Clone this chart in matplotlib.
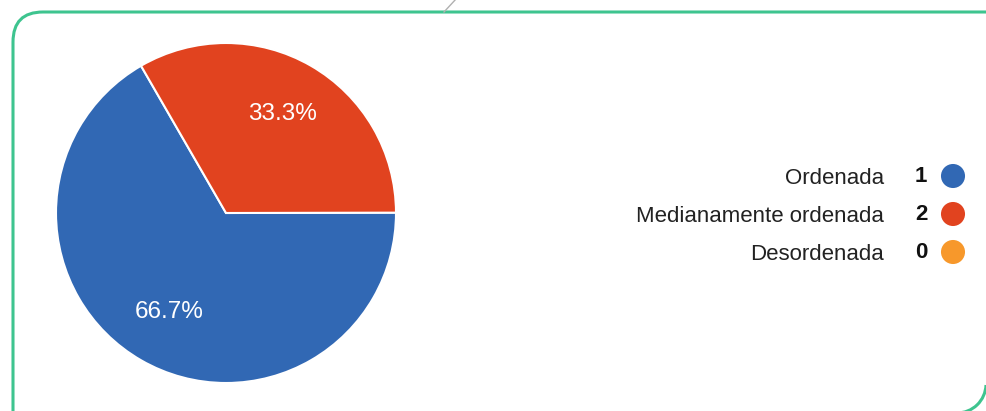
import matplotlib.pyplot as plt
from matplotlib.patches import FancyBboxPatch, Arc

plt.rcParams['font.family'] = ['Liberation Sans', 'DejaVu Sans']

# survey answers
categories = ["Ordenada", "Medianamente ordenada", "Desordenada"]
counts = [1, 2, 0]
shares = [66.7, 33.3]          # percentages shown on the pie
colors = ["#3168b4", "#e1431f", "#f7982b"]

W, H = 986, 411
fig = plt.figure(figsize=(W / 100, H / 100), dpi=100)

# background layer in pixel units (origin bottom left) for the card frame and legend
bg = fig.add_axes([0, 0, 1, 1])
bg.set_xlim(0, W)
bg.set_ylim(0, H)
bg.axis("off")

green = "#3ec48f"
card = FancyBboxPatch((13, -40), 1040, H - 12 + 40, boxstyle="round,pad=0,rounding_size=30",
                      fill=False, edgecolor=green, linewidth=2.2)
bg.add_patch(card)
# bottom right corner of the card
bg.add_patch(Arc((957, 27), 58, 58, theta1=-90, theta2=-2, color=green, linewidth=2.2))
bg.plot([444, 456], [H - 12, H + 1], color="#b0b0b0", linewidth=1)

# pie
ax = fig.add_axes([56 / W, 28 / H, 340 / W, 340 / H])
ax.pie(shares, colors=colors[:2], startangle=120, counterclock=True,
       autopct="%.1f%%", pctdistance=0.67, radius=1,
       wedgeprops=dict(edgecolor="white", linewidth=1.5),
       textprops=dict(color="white", fontsize=17.5))
ax.set_xlim(-1, 1)
ax.set_ylim(-1, 1)
ax.set_aspect("auto")

# legend with counts
for i, (name, n, c) in enumerate(zip(categories, counts, colors)):
    y = H - (179 + i * 38)
    bg.text(884, y, name, ha="right", va="center", fontsize=16, color="#222222")
    bg.text(921, y + 3, str(n), ha="center", va="center", fontsize=16,
            fontweight="bold", color="#111111")
    bg.scatter([953], [y + 3], s=300, color=c, edgecolors="none")

fig.savefig("out.png", dpi=100)
